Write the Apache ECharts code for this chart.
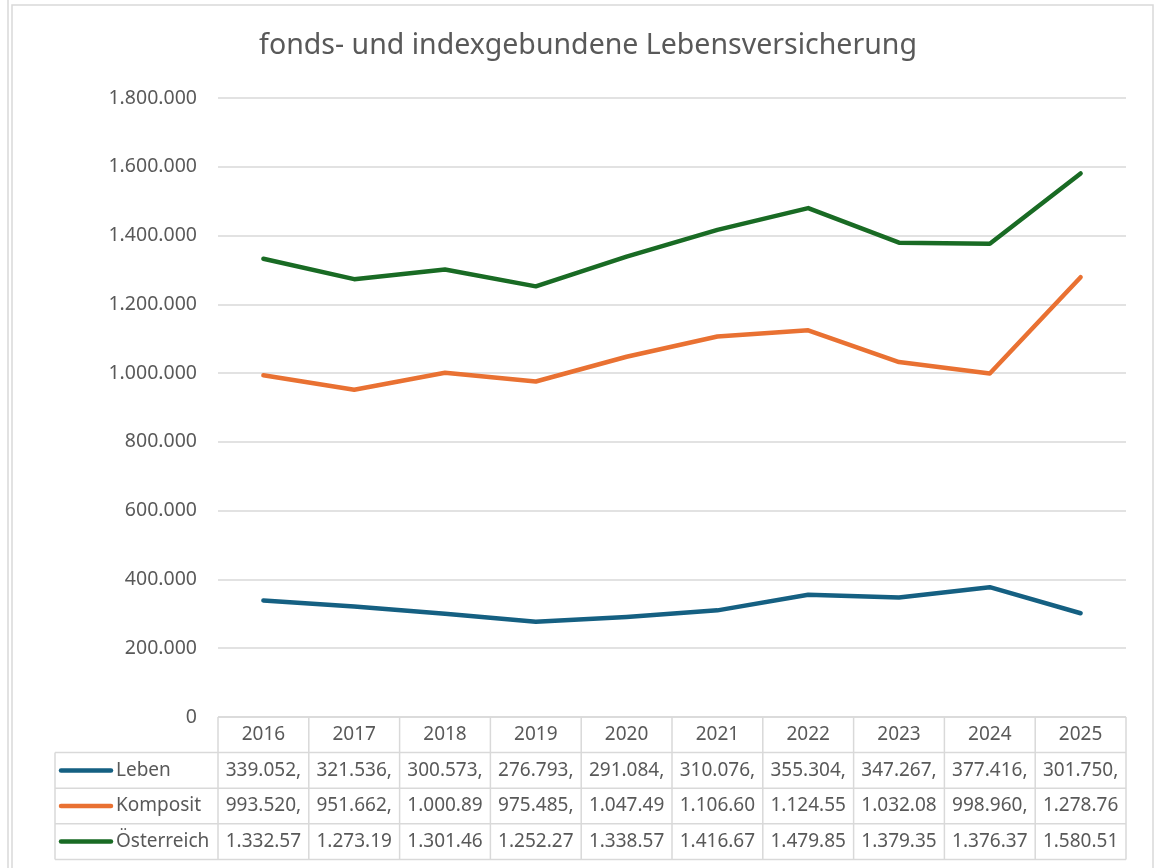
<!DOCTYPE html>
<html>
<head>
<meta charset="utf-8">
<script src="https://cdn.jsdelivr.net/npm/echarts@6/dist/echarts.min.js"></script>
<style>
  html, body { margin: 0; padding: 0; background: #fff; }
  #main { width: 1159px; height: 868px; }
</style>
</head>
<body>
<div id="main"></div>
<script>
// Werte je Jahr
var years = ['2016', '2017', '2018', '2019', '2020', '2021', '2022', '2023', '2024', '2025'];
var leben = [339052, 321536, 300573, 276793, 291084, 310076, 355304, 347267, 377416, 301750];
var komposit = [993520, 951662, 1000890, 975485, 1047490, 1106600, 1124550, 1032080, 998960, 1278760];
var oesterreich = [1332570, 1273190, 1301460, 1252270, 1338570, 1416670, 1479850, 1379350, 1376370, 1580510];
var seriesNames = ['Leben', 'Komposit', 'Österreich'];
var seriesColors = ['#156082', '#E97132', '#196B24'];

var textColor = '#595959';
var lineGray = '#d9d9d9';
var fontFamily = '"Noto Sans", sans-serif';

// deutsche Tausendertrennung
function deInt(v) {
  return String(Math.round(v)).replace(/\B(?=(\d{3})+(?!\d))/g, '.');
}
function deCell(v) {
  var p = v.toFixed(2).split('.');
  // Excel schneidet den Text in der Tabellenzelle ab
  return (deInt(Number(p[0])) + ',' + p[1]).slice(0, 8);
}

window.onload = function() {
  var myChart = echarts.init(document.getElementById('main'));
  var allData = [leben, komposit, oesterreich];

  var option = {
    backgroundColor: '#fff',
    animation: false,
    title: {
      text: 'fonds- und indexgebundene Lebensversicherung',
      left: 583,
      textAlign: 'center',
      top: 26,
      textStyle: { fontFamily: fontFamily, fontSize: 28.5, fontWeight: 'normal', color: textColor }
    },
    grid: { left: 218, right: 33, top: 98, bottom: 151 },
    xAxis: {
      type: 'category',
      data: years,
      boundaryGap: true,
      axisLine: { show: false },
      axisTick: { show: false },
      axisLabel: { show: false },
      splitLine: { show: false }
    },
    yAxis: {
      type: 'value',
      min: 0,
      max: 1800000,
      interval: 200000,
      axisLine: { show: false },
      axisTick: { show: false },
      axisLabel: {
        margin: 21,
        fontFamily: fontFamily,
        fontSize: 19.5,
        color: textColor,
        formatter: function(v) { return deInt(v); }
      },
      splitLine: { lineStyle: { color: lineGray, width: 1.5 } }
    },
    series: allData.map(function(d, i) {
      return {
        type: 'line',
        name: seriesNames[i],
        data: d,
        symbol: 'none',
        lineStyle: { color: seriesColors[i], width: 4.5, cap: 'round', join: 'round' },
        itemStyle: { color: seriesColors[i] }
      };
    })
  };
  myChart.setOption(option);

  // Datentabelle unter dem Diagramm
  var x0 = 218, x1 = 1126;
  var colW = (x1 - x0) / years.length;
  var top = myChart.convertToPixel({ yAxisIndex: 0 }, 0);
  var rowH = 35.6;
  var legLeft = 55;
  var els = [];
  var ln = function(xa, ya, xb, yb) {
    els.push({ type: 'line', shape: { x1: xa, y1: ya, x2: xb, y2: yb },
      style: { stroke: lineGray, lineWidth: 1.5 }, silent: true });
  };
  var txt = function(s, x, y, align) {
    els.push({ type: 'text', x: x, y: y, silent: true,
      style: { text: s, fill: textColor, font: '19px ' + fontFamily, align: align, verticalAlign: 'middle' } });
  };
  var bottom = top + rowH * 4;
  ln(x0, top, x1, top);
  for (var r = 1; r <= 4; r++) ln(legLeft, top + rowH * r, x1, top + rowH * r);
  for (var c = 0; c <= years.length; c++) ln(x0 + colW * c, top, x0 + colW * c, bottom);
  ln(legLeft, top + rowH, legLeft, bottom);
  years.forEach(function(y, i) {
    var cx = myChart.convertToPixel({ xAxisIndex: 0 }, y);
    txt(y, cx, top + rowH / 2, 'center');
    allData.forEach(function(d, k) {
      txt(deCell(d[i]), cx, top + rowH * (k + 1.5), 'center');
    });
  });
  seriesNames.forEach(function(n, k) {
    var cy = top + rowH * (k + 1.5);
    els.push({ type: 'line', shape: { x1: 61, y1: cy, x2: 111, y2: cy },
      style: { stroke: seriesColors[k], lineWidth: 4.5, lineCap: 'round' }, silent: true });
    txt(n, 116, cy, 'left');
  });

  // Rahmen
  els.push({ type: 'rect', shape: { x: 12, y: 5, width: 1141, height: 900 },
    style: { fill: null, stroke: lineGray, lineWidth: 1.5 }, silent: true, z: -1 });
  els.push({ type: 'line', shape: { x1: 8, y1: 0, x2: 8, y2: 868 },
    style: { stroke: lineGray, lineWidth: 1.5 }, silent: true, z: -1 });

  myChart.setOption({ graphic: { elements: els } });
};
</script>
</body>
</html>
